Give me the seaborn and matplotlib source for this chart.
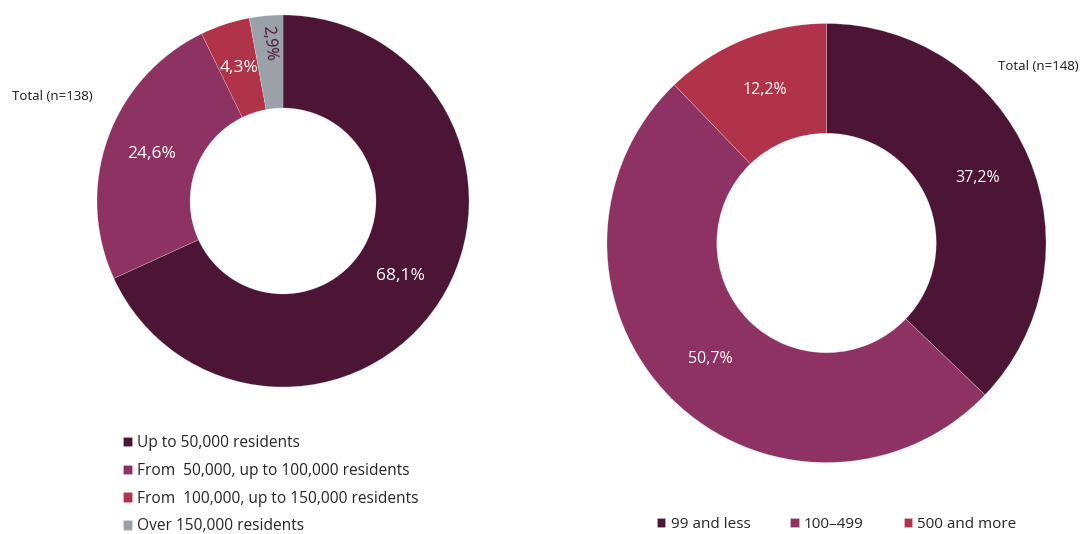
import numpy as np
import matplotlib
matplotlib.use("Agg")
import matplotlib.pyplot as plt
import seaborn as sns

# Data
town_labels = ["Up to 50,000 residents", "From  50,000, up to 100,000 residents",
               "From  100,000, up to 150,000 residents", "Over 150,000 residents"]
town_values = [68.1, 24.6, 4.3, 2.9]
town_title = "Total (n=138)"

size_labels = ["99 and less", "100\u2013499", "500 and more"]
size_values = [37.2, 50.7, 12.2]
size_title = "Total (n=148)"

sns.set_theme(style="white")
plt.rcParams["font.family"] = ["Open Sans", "DejaVu Sans"]

palette = sns.color_palette(["#4d1535", "#8e3163", "#b1334a", "#9aa1a9"])

W, H = 1082, 534
fig = plt.figure(figsize=(W / 100, H / 100), dpi=100)
ax = fig.add_axes([0, 0, 1, 1])


def fmt(v):
    return f"{v:.1f}".replace(".", ",") + "%"


def donut(values, center, radius, colors):
    wedges, _ = ax.pie(values, colors=colors, startangle=90, counterclock=False,
                       center=center, radius=radius, normalize=True,
                       wedgeprops=dict(width=radius * 0.5, linewidth=0.4,
                                       edgecolor=(1, 1, 1, 0.35)))
    return wedges


# Left donut: city size
cl = (283, H - 201)
rl = 186
wl = donut(town_values, cl, rl, palette[:4])
for w, v in zip(wl, town_values):
    ang = np.deg2rad((w.theta1 + w.theta2) / 2)
    if v < 4:
        r = rl * 0.85
        ax.text(cl[0] + r * np.cos(ang), cl[1] + r * np.sin(ang), fmt(v),
                ha="center", va="center", fontsize=11.5, color="#4d1535",
                rotation=np.rad2deg(ang) - 180)
    else:
        r = rl * 0.75
        ax.text(cl[0] + r * np.cos(ang), cl[1] + r * np.sin(ang), fmt(v),
                ha="center", va="center", fontsize=12.5, color="white")

# Right donut: organisation size
cr = (826.5, H - 243)
rr = 219.5
wr = donut(size_values, cr, rr, palette[:3])
for w, v in zip(wr, size_values):
    ang = np.deg2rad((w.theta1 + w.theta2) / 2)
    r = rr * 0.75
    ax.text(cr[0] + r * np.cos(ang), cr[1] + r * np.sin(ang), fmt(v),
            ha="center", va="center", fontsize=11.5, color="white")

ax.text(12, H - 97, town_title, ha="left", va="center", fontsize=9.5, color="#1a1a1a")
ax.text(998, H - 66, size_title, ha="left", va="center", fontsize=9.5, color="#1a1a1a")

ax.set_xlim(0, W)
ax.set_ylim(0, H)
ax.set_aspect("equal")
ax.axis("off")

leg1 = ax.legend(wl, town_labels, loc="upper left",
                 bbox_to_anchor=(123 / W, 1 - 435 / H), bbox_transform=fig.transFigure,
                 frameon=False, fontsize=11.2, handlelength=0.55, handleheight=0.55,
                 handletextpad=0.35, labelspacing=0.76, borderaxespad=0, borderpad=0)
ax.add_artist(leg1)
ax.legend(wr, size_labels, loc="upper left", ncol=3,
          bbox_to_anchor=(657 / W, 1 - 517 / H), bbox_transform=fig.transFigure,
          frameon=False, fontsize=11, handlelength=0.55, handleheight=0.55,
          handletextpad=0.35, columnspacing=2.6, borderaxespad=0, borderpad=0)

fig.savefig("out.png", dpi=100)
